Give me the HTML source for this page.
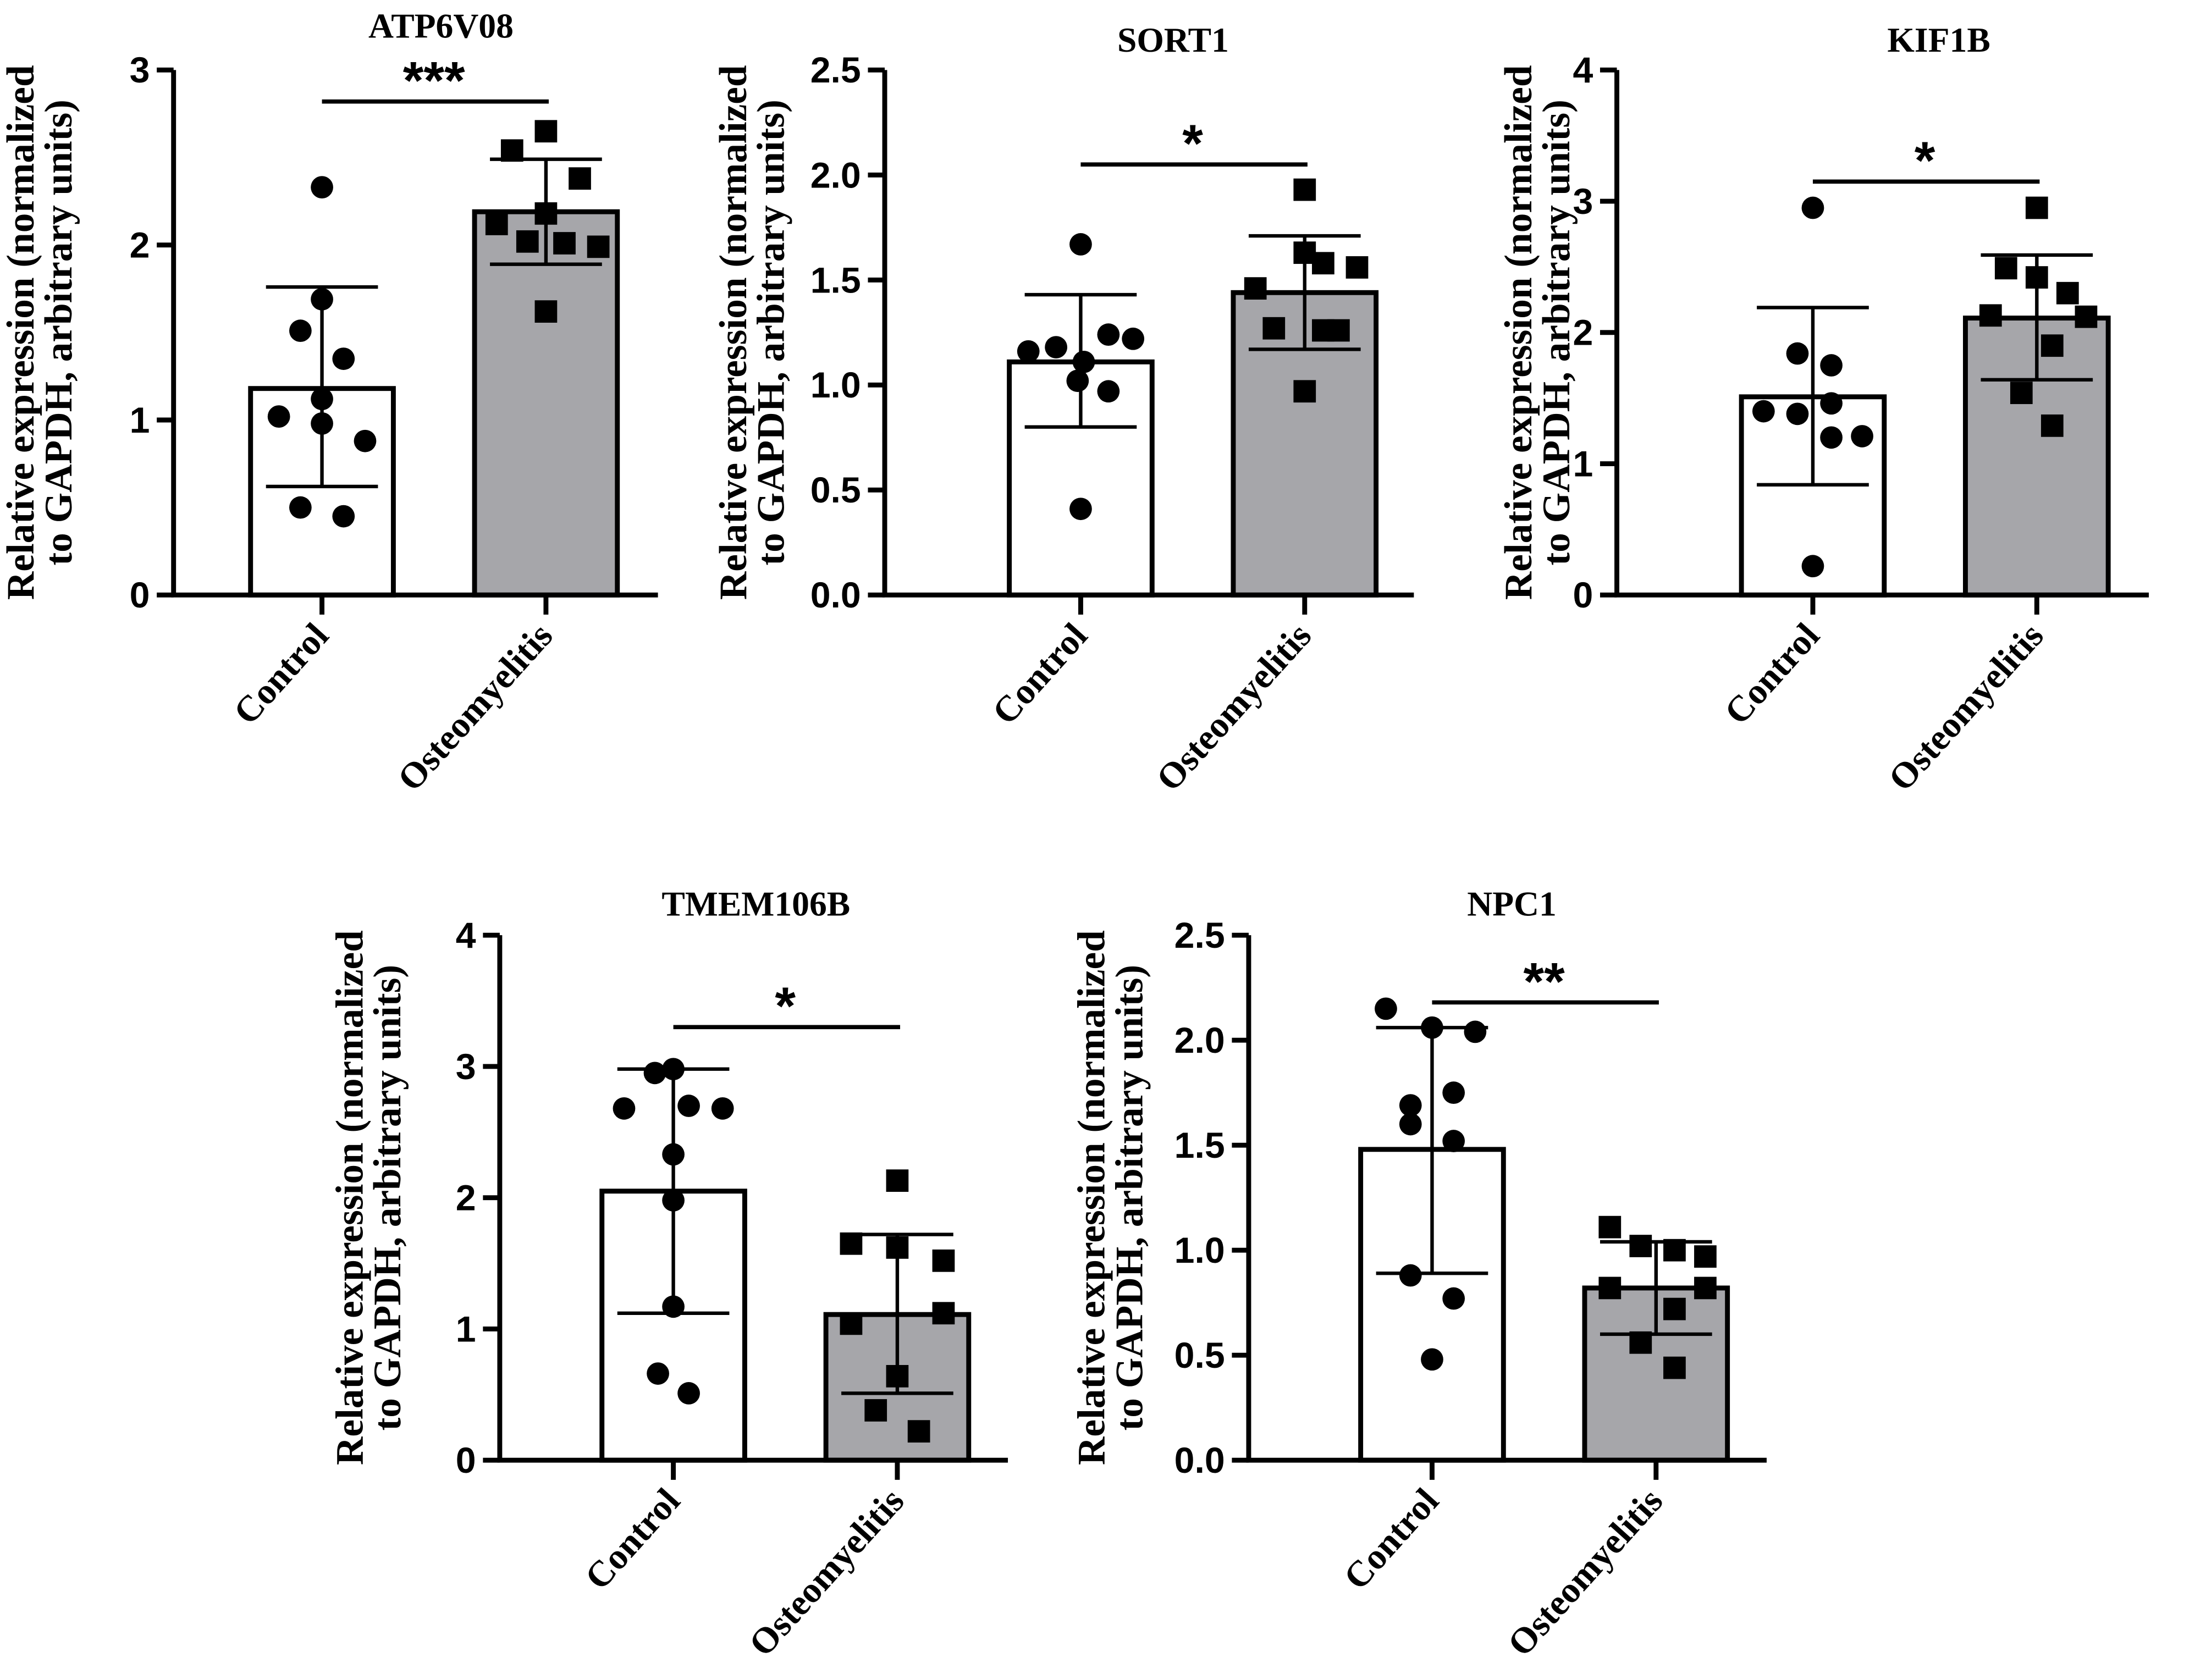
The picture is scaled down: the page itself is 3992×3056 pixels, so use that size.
<!DOCTYPE html>
<html><head><meta charset="utf-8"><style>
html,body{margin:0;padding:0;background:#fff;}
svg{display:block;}
.tick{font-family:"Liberation Sans",sans-serif;font-weight:bold;font-size:26px;}
.ttl{font-family:"Liberation Serif",serif;font-weight:bold;font-size:25px;}
.xl{font-family:"Liberation Serif",serif;font-weight:bold;font-size:26px;}
.yt{font-family:"Liberation Serif",serif;font-weight:bold;font-size:28px;}
.sig{font-family:"Liberation Sans",sans-serif;font-weight:bold;font-size:38px;}
</style></head><body>
<svg id="fig" width="3992" height="3056" viewBox="0 0 1568 1200" preserveAspectRatio="none" xmlns="http://www.w3.org/2000/svg"></svg>
<script>
// ---- data ----
const panelTitles = ["ATP6V08","SORT1","KIF1B","TMEM106B","NPC1"];
const groups = ["Control","Osteomyelitis"];
const yMaxes = [3,2.5,4,4,2.5];
const tickSteps = [1,0.5,1,1,0.5];
const tickDecimals = [0,1,0,0,1];
const sigLabels = ["***","*","*","*","**"];
const means = [[1.18,2.19],[1.11,1.44],[1.51,2.11],[2.05,1.11],[1.48,0.82]];
const errLow = [[0.62,1.89],[0.80,1.17],[0.84,1.64],[1.12,0.51],[0.89,0.60]];
const errHigh = [[1.76,2.49],[1.43,1.71],[2.19,2.59],[2.98,1.72],[2.06,1.04]];
const sigHeights = [2.82,2.05,3.15,3.3,2.18];
const ctrlPts = [
 [2.33,1.69,1.51,1.35,1.02,0.98,0.88,0.50,0.45,1.12],
 [1.67,1.16,1.18,1.24,1.22,1.02,0.97,0.41,1.11],
 [2.95,1.84,1.75,1.40,1.38,1.46,1.21,1.20,0.22],
 [2.98,2.95,2.68,2.70,2.68,2.33,1.98,1.17,0.66,0.51],
 [2.15,2.06,2.04,1.75,1.69,1.60,1.52,0.88,0.77,0.48]];
const ctrlOff = [
 [0,0,-0.35,0.35,-0.7,0,0.7,-0.35,0.35,0],
 [0,-0.85,-0.4,0.45,0.85,-0.05,0.45,0,0.05],
 [0,-0.25,0.3,-0.8,-0.25,0.3,0.8,0.3,0],
 [0,-0.3,-0.8,0.25,0.8,0,0,0,-0.25,0.25],
 [-0.75,0,0.7,0.35,-0.35,-0.35,0.35,-0.35,0.35,0]];
const ostPts = [
 [2.65,2.54,2.38,2.12,2.18,2.02,2.01,1.99,1.62],
 [1.93,1.63,1.58,1.56,1.46,1.27,1.26,1.26,0.97],
 [2.95,2.49,2.42,2.13,2.12,2.30,1.90,1.54,1.29],
 [2.13,1.65,1.62,1.52,1.12,1.04,0.64,0.38,0.22],
 [1.11,1.02,1.00,0.97,0.82,0.82,0.72,0.56,0.44]];
const ostOff = [
 [0,-0.55,0.55,-0.8,0,-0.3,0.3,0.85,0],
 [0,0,0.3,0.85,-0.8,-0.5,0.3,0.55,0],
 [0,-0.5,0,-0.75,0.8,0.5,0.25,-0.25,0.25],
 [0,-0.75,0,0.75,0.75,-0.75,0,-0.35,0.35],
 [-0.75,-0.25,0.3,0.8,-0.75,0.8,0.3,-0.25,0.3]];
// ---- layout ----
const layout = [
 {ax:124,x1:470,top:50,bot:425,c:[230,390],tx:315,ty:27,yt:[15,42]},
 {ax:632,x1:1010,top:50,bot:425,c:[772,932],tx:838,ty:37,yt:[524,551]},
 {ax:1155,x1:1535,top:50,bot:425,c:[1295,1455],tx:1385,ty:37,yt:[1085,1112]},
 {ax:357,x1:720,top:668,bot:1043,c:[481,641],tx:540,ty:654,yt:[250,277]},
 {ax:892,x1:1262,top:668,bot:1043,c:[1023,1183],tx:1080,ty:654,yt:[780,807]}];
const NS="http://www.w3.org/2000/svg";
const svg=document.getElementById('fig');
function mk(tag,attrs,parent,text){const e=document.createElementNS(NS,tag);for(const k in attrs)e.setAttribute(k,attrs[k]);if(text!==undefined)e.textContent=text;(parent||svg).appendChild(e);return e;}
panelTitles.forEach((title,p)=>{
 const L=layout[p];
 const g=mk('g',{});
 
 
 const y=v=>L.bot-(v/yMaxes[p])*(L.bot-L.top);
 const hw=51;
 groups.forEach((gr,i)=>{
  const cx=L.c[i];
  const b=mk('rect',{x:cx-hw,y:y(means[p][i]),width:2*hw,height:L.bot-y(means[p][i]),fill:i?'#a6a6aa':'#fff',stroke:'#000','stroke-width':3.5},g);
  
  
 });
 ctrlPts[p].forEach((v,k)=>{
  const c=mk('circle',{cx:L.c[0]+ctrlOff[p][k]*44,cy:y(v),r:8,fill:'#000'},g);
  
  
 });
 ostPts[p].forEach((v,k)=>{
  const s=mk('rect',{x:L.c[1]+ostOff[p][k]*44-8,y:y(v)-8,width:16,height:16,fill:'#000'},g);
  
  
 });
 groups.forEach((gr,i)=>{
  const cx=L.c[i];
  const e=mk('path',{d:`M${cx},${y(errLow[p][i])}V${y(errHigh[p][i])}M${cx-40},${y(errLow[p][i])}H${cx+40}M${cx-40},${y(errHigh[p][i])}H${cx+40}`,stroke:'#000','stroke-width':2.5,fill:'none'},g);
  
  
 });
 const ax=mk('path',{d:`M${L.ax},${L.top}V${L.bot}H${L.x1}`,stroke:'#000','stroke-width':3.5,fill:'none'},g);
 
 
 for(let v=0;v<=yMaxes[p]+1e-9;v+=tickSteps[p]){
  mk('line',{x1:L.ax-12,x2:L.ax,y1:y(v),y2:y(v),stroke:'#000','stroke-width':3.5},g);
  const t=mk('text',{x:L.ax-17,y:y(v)+9,'text-anchor':'end',class:'tick'},g,v.toFixed(tickDecimals[p]));
  
  
 }
 groups.forEach((gr,i)=>{
  const cx=L.c[i];
  mk('line',{x1:cx,x2:cx,y1:L.bot,y2:L.bot+14,stroke:'#000','stroke-width':3.5},g);
  const t=mk('text',{x:cx+6,y:L.bot+30,'text-anchor':'end',class:'xl',transform:`rotate(-48 ${cx+6} ${L.bot+30})`},g,gr);
  
  
 });
 const sy=y(sigHeights[p]);
 const sl=mk('line',{x1:L.c[0],x2:L.c[1]+2,y1:sy,y2:sy,stroke:'#000','stroke-width':3},g);
 
 
 const st=mk('text',{x:(L.c[0]+L.c[1])/2,y:sy-2,'text-anchor':'middle',class:'sig'},g,sigLabels[p]);
 
 
 const tt=mk('text',{x:L.tx,y:L.ty,'text-anchor':'middle',class:'ttl'},g,title);
 
 
 const cy=(L.top+L.bot)/2;
 const y1=mk('text',{x:L.yt[0]+9,y:cy,'text-anchor':'middle',class:'yt',transform:`rotate(-90 ${L.yt[0]+9} ${cy})`},g,'Relative expression (normalized');
 
 
 const y2=mk('text',{x:L.yt[1]+9,y:cy,'text-anchor':'middle',class:'yt',transform:`rotate(-90 ${L.yt[1]+9} ${cy})`},g,'to GAPDH, arbitrary units)');
 
 
});
</script>
</body></html>
